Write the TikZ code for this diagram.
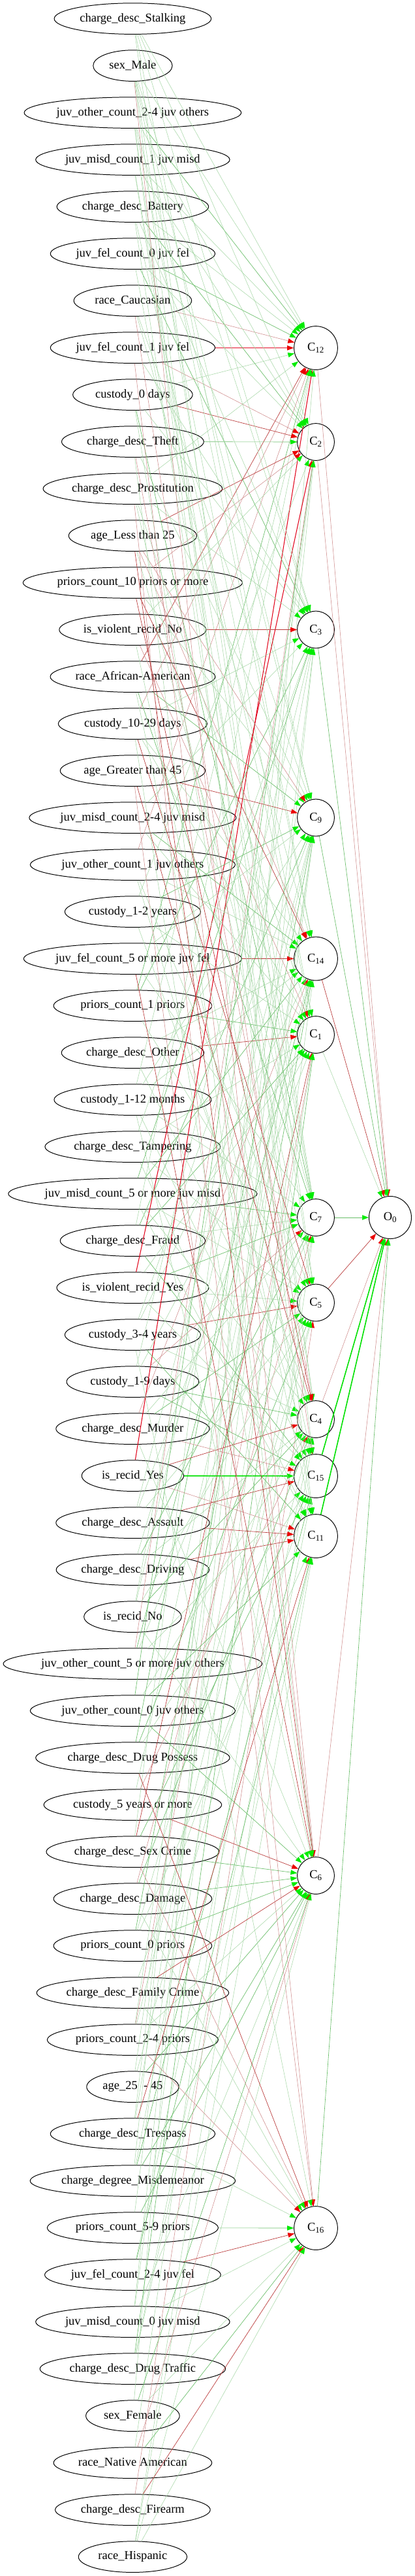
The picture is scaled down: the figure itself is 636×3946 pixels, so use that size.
\documentclass[tikz,border=0pt]{standalone}
\usepackage{fontspec}
\setmainfont{Liberation Serif}
\usetikzlibrary{arrows.meta,shapes.geometric}
\definecolor{gtip}{RGB}{0,235,0}
\definecolor{rtip}{RGB}{235,0,0}
\definecolor{gln}{RGB}{105,190,105}
\definecolor{glt}{RGB}{165,215,165}
\definecolor{gst}{RGB}{0,225,0}
\definecolor{rln}{RGB}{185,55,55}
\definecolor{rlt}{RGB}{205,135,135}
\definecolor{rst}{RGB}{225,0,25}
\begin{document}
\begin{tikzpicture}[x=0.7566pt,y=-0.7566pt,
  nfont/.style={font=\fontsize{14}{16}\selectfont},
  inp/.style={ellipse,draw,line width=0.75pt,inner sep=0pt,minimum height=36pt,nfont},
  hid/.style={circle,draw,line width=0.75pt,inner sep=0pt,minimum size=42.9pt,nfont},
  hidw/.style={hid,minimum size=50.5pt},
  outn/.style={hid,minimum size=49.2pt},
  gtipst/.style={-{Triangle[length=7.5pt,width=5.5pt,color=gtip]}},
  rtipst/.style={-{Triangle[length=7.5pt,width=5.5pt,color=rtip]}},
  eGG/.style={draw=gst,line width=1.2pt,gtipst},
  eG/.style={draw=gln,line width=0.5pt,gtipst},
  eg/.style={draw=glt,line width=0.4pt,gtipst},
  eRR/.style={draw=rst,line width=0.8pt,rtipst},
  eR/.style={draw=rln,line width=0.5pt,rtipst},
  er/.style={draw=rlt,line width=0.4pt,rtipst}]
\fill[white] (0,0) rectangle (636,3946);
\useasboundingbox (0,0) rectangle (636,3946);
% input nodes
\foreach \ww/\lab [count=\k] in {
182.0/charge\_desc\_Stalking,
91.8/sex\_Male,
251.7/juv\_other\_count\_2-4 juv others,
225.0/juv\_misd\_count\_1 juv misd,
175.9/charge\_desc\_Battery,
190.9/juv\_fel\_count\_0 juv fel,
136.6/race\_Caucasian,
190.9/juv\_fel\_count\_1 juv fel,
138.8/custody\_0 days,
164.8/charge\_desc\_Theft,
207.8/charge\_desc\_Prostitution,
148.5/age\_Less than 25,
254.4/priors\_count\_10 priors or more,
170.4/is\_violent\_recid\_No,
191.2/race\_African-American,
172.5/custody\_10-29 days,
168.2/age\_Greater than 45,
240.0/juv\_misd\_count\_2-4 juv misd,
237.6/juv\_other\_count\_1 juv others,
157.4/custody\_1-2 years,
252.9/juv\_fel\_count\_5 or more juv fel,
183.5/priors\_count\_1 priors,
165.2/charge\_desc\_Other,
182.3/custody\_1-12 months,
203.5/charge\_desc\_Tampering,
288.5/juv\_misd\_count\_5 or more juv misd,
168.2/charge\_desc\_Fraud,
176.2/is\_violent\_recid\_Yes,
157.4/custody\_3-4 years,
153.4/custody\_1-9 days,
178.0/charge\_desc\_Murder,
118.2/is\_recid\_Yes,
178.0/charge\_desc\_Assault,
177.4/charge\_desc\_Driving,
113.0/is\_recid\_No,
300.2/juv\_other\_count\_5 or more juv others,
237.6/juv\_other\_count\_0 juv others,
225.0/charge\_desc\_Drug Possess,
206.2/custody\_5 years or more,
200.4/charge\_desc\_Sex Crime,
183.5/charge\_desc\_Damage,
183.5/priors\_count\_0 priors,
222.8/charge\_desc\_Family Crime,
198.2/priors\_count\_2-4 priors,
106.8/age\_25 ~- 45,
190.9/charge\_desc\_Trespass,
237.9/charge\_degree\_Misdemeanor,
198.2/priors\_count\_5-9 priors,
204.1/juv\_fel\_count\_2-4 juv fel,
225.0/juv\_misd\_count\_0 juv misd,
215.2/charge\_desc\_Drug Traffic,
108.6/sex\_Female,
183.5/race\_Native American,
179.8/charge\_desc\_Firearm,
125.8/race\_Hispanic}
{\node[inp,minimum width=\ww pt] (i\k) at (203.4,{28.6+(\k-1)*72}) {\lab};}
% hidden nodes
\node[hidw] (c12) at (484,533) {C\textsubscript{12}};
\node[hid]  (c2)  at (484,677) {C\textsubscript{2}};
\node[hid]  (c3)  at (484,964.5) {C\textsubscript{3}};
\node[hid]  (c9)  at (484,1252.5) {C\textsubscript{9}};
\node[hidw] (c14) at (484,1468.5) {C\textsubscript{14}};
\node[hid]  (c1)  at (484,1585) {C\textsubscript{1}};
\node[hid]  (c7)  at (484,1865) {C\textsubscript{7}};
\node[hid]  (c5)  at (484,1995.5) {C\textsubscript{5}};
\node[hid]  (c4)  at (484,2174) {C\textsubscript{4}};
\node[hidw] (c15) at (484,2261) {C\textsubscript{15}};
\node[hidw] (c11) at (484,2353) {C\textsubscript{11}};
\node[hid]  (c6)  at (484,2873) {C\textsubscript{6}};
\node[hidw] (c16) at (484,3413) {C\textsubscript{16}};
\node[outn] (o0)  at (598,1865) {O\textsubscript{0}};
% input -> hidden
\foreach \src/\tgt/\sty in {
1/c12/eg,2/c12/eg,3/c12/eG,4/c12/eg,5/c12/eg,6/c12/eG,7/c12/er,8/c12/eRR,15/c12/eR,19/c12/er,22/c12/eG,24/c12/eg,32/c12/eRR,52/c12/eg,9/c12/eg,11/c12/eg,16/c12/er,27/c12/eg,
1/c2/eg,3/c2/eg,5/c2/eG,8/c2/er,9/c2/eR,10/c2/eG,12/c2/eR,13/c2/er,28/c2/eRR,37/c2/eG,47/c2/eg,36/c2/er,4/c2/eg,6/c2/eg,14/c2/eg,20/c2/eg,40/c2/eg,
1/c3/eg,2/c3/eg,6/c3/eG,9/c3/eg,11/c3/eg,14/c3/eR,18/c3/eg,22/c3/eG,26/c3/eG,30/c3/eg,46/c3/eg,5/c3/eg,8/c3/eg,16/c3/eg,25/c3/eg,35/c3/eg,50/c3/eg,
2/c9/eg,3/c9/eg,10/c9/eg,13/c9/eg,15/c9/eG,17/c9/eR,20/c9/eG,24/c9/eg,27/c9/eG,33/c9/eg,38/c9/eG,44/c9/eg,45/c9/eg,7/c9/eg,12/c9/er,21/c9/eg,29/c9/eg,35/c9/eg,48/c9/eg,
2/c14/eg,12/c14/er,13/c14/eR,16/c14/eg,18/c14/eG,19/c14/eg,21/c14/eR,24/c14/eg,26/c14/eG,29/c14/eg,31/c14/er,36/c14/eG,42/c14/eG,50/c14/eg,1/c14/eg,7/c14/eg,23/c14/eg,34/c14/eg,39/c14/eg,
3/c1/eg,11/c1/eg,14/c1/er,20/c1/eg,22/c1/eG,23/c1/eR,25/c1/eg,27/c1/eG,30/c1/eg,40/c1/eR,44/c1/er,51/c1/eG,5/c1/eg,16/c1/eg,18/c1/eg,28/c1/eg,33/c1/eg,46/c1/eg,
4/c7/eg,6/c7/eg,9/c7/eG,15/c7/eG,24/c7/eg,26/c7/eG,27/c7/eg,30/c7/er,34/c7/eG,41/c7/er,53/c7/eg,2/c7/eg,12/c7/eg,21/c7/eg,28/c7/eG,31/c7/eg,36/c7/eg,47/c7/eg,
4/c5/eg,16/c5/eR,19/c5/eg,26/c5/eg,28/c5/eg,29/c5/eR,31/c5/eG,33/c5/eg,38/c5/eG,42/c5/eg,54/c5/er,1/c5/eg,11/c5/eg,22/c5/eg,25/c5/eg,35/c5/eg,44/c5/eg,
5/c4/eg,13/c4/eR,17/c4/eR,26/c4/eg,29/c4/eg,30/c4/eG,32/c4/eR,35/c4/eG,37/c4/eg,39/c4/er,41/c4/eG,45/c4/eg,55/c4/eg,3/c4/eg,10/c4/er,20/c4/eg,23/c4/eg,34/c4/eg,49/c4/eg,
7/c15/er,24/c15/eg,27/c15/eG,28/c15/eg,30/c15/eG,31/c15/er,32/c15/eGG,33/c15/eR,36/c15/eg,40/c15/eG,43/c15/eg,47/c15/eG,2/c15/eg,14/c15/eg,19/c15/eg,38/c15/eg,51/c15/eg,
9/c11/eg,25/c11/eg,29/c11/eG,32/c11/er,33/c11/eR,34/c11/eR,46/c11/eR,49/c11/eG,51/c11/eg,3/c11/eg,15/c11/eg,26/c11/eg,37/c11/eG,42/c11/eg,55/c11/eg,
8/c6/er,10/c6/eg,12/c6/eR,21/c6/eR,37/c6/eG,39/c6/eR,40/c6/eG,41/c6/eG,42/c6/eG,43/c6/eR,44/c6/eg,47/c6/eG,48/c6/eG,50/c6/eg,52/c6/eG,53/c6/er,55/c6/eg,2/c6/er,16/c6/eg,24/c6/eg,31/c6/eg,35/c6/eg,45/c6/eG,
11/c16/er,38/c16/eR,40/c16/er,43/c16/eg,44/c16/er,48/c16/eG,49/c16/eR,50/c16/eg,53/c16/eG,54/c16/eR,55/c16/eg,17/c16/er,29/c16/eg,41/c16/eg,46/c16/eg,52/c16/eg}
{\draw[\sty] (i\src) -- (\tgt);}
% hidden -> output
\foreach \src/\sty in {c12/er,c2/er,c3/eG,c9/eG,c14/eR,c1/eg,c7/eG,c5/eR,c4/er,c15/eGG,c11/eGG,c6/er,c16/eG}
{\draw[\sty] (\src) -- (o0);}
\end{tikzpicture}
\end{document}
